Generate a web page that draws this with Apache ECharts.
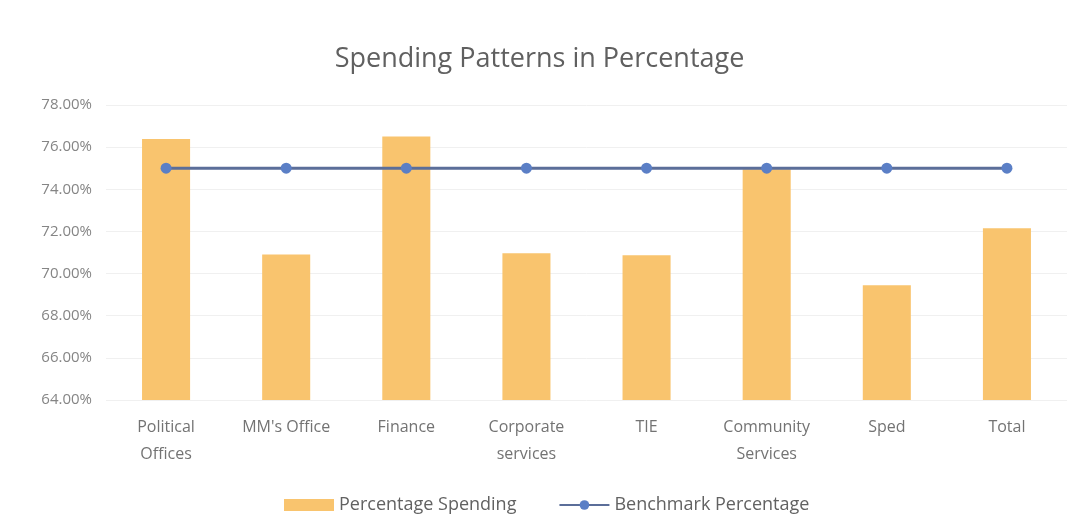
<!DOCTYPE html>
<html>
<head>
<meta charset="utf-8">
<script src="https://cdn.jsdelivr.net/npm/echarts@6/dist/echarts.min.js"></script>
<style>
  html, body { margin: 0; padding: 0; background: #fff; }
  #chart { width: 1079px; height: 531px; }
</style>
</head>
<body>
<div id="chart"></div>
<script>
const categories = ['Political\nOffices', "MM's Office", 'Finance', 'Corporate\nservices', 'TIE', 'Community\nServices', 'Sped', 'Total'];
const spending = [76.39, 70.91, 76.5, 70.96, 70.87, 74.95, 69.44, 72.15];
const benchmark = [75, 75, 75, 75, 75, 75, 75, 75];

const chart = echarts.init(document.getElementById('chart'));
const font = '"Open Sans", Lato, sans-serif';

chart.setOption({
  backgroundColor: '#ffffff',
  textStyle: { fontFamily: font },
  title: {
    text: 'Spending Patterns in Percentage',
    left: 'center',
    top: 41,
    textStyle: { fontSize: 27, fontWeight: 'normal', color: '#606060', fontFamily: font }
  },
  grid: { left: 106, right: 12, top: 105, bottom: 131 },
  legend: {
    bottom: 12,
    left: 279,
    itemGap: 42,
    itemWidth: 50,
    itemHeight: 12,
    textStyle: { fontSize: 18, color: '#626262', fontFamily: font },
    data: [
      { name: 'Percentage Spending', icon: 'rect' },
      { name: 'Benchmark Percentage' }
    ]
  },
  xAxis: {
    type: 'category',
    data: categories,
    axisLine: { show: false },
    axisTick: { show: false },
    axisLabel: { fontSize: 16, color: '#737373', lineHeight: 27, margin: 14, interval: 0 }
  },
  yAxis: {
    type: 'value',
    min: 64,
    max: 78,
    interval: 2,
    axisLine: { show: false },
    axisTick: { show: false },
    splitLine: { lineStyle: { color: '#f0f0f0' } },
    axisLabel: {
      fontSize: 15,
      color: '#858585',
      margin: 14,
      formatter: v => v.toFixed(2) + '%'
    }
  },
  series: [
    {
      name: 'Percentage Spending',
      type: 'bar',
      data: spending,
      barWidth: '40%',
      itemStyle: { color: '#f9c46e' }
    },
    {
      name: 'Benchmark Percentage',
      type: 'line',
      data: benchmark,
      symbol: 'circle',
      symbolSize: 11,
      lineStyle: { color: '#5b6e99', width: 3 },
      itemStyle: { color: '#5b7fc6' }
    }
  ]
});
</script>
</body>
</html>
